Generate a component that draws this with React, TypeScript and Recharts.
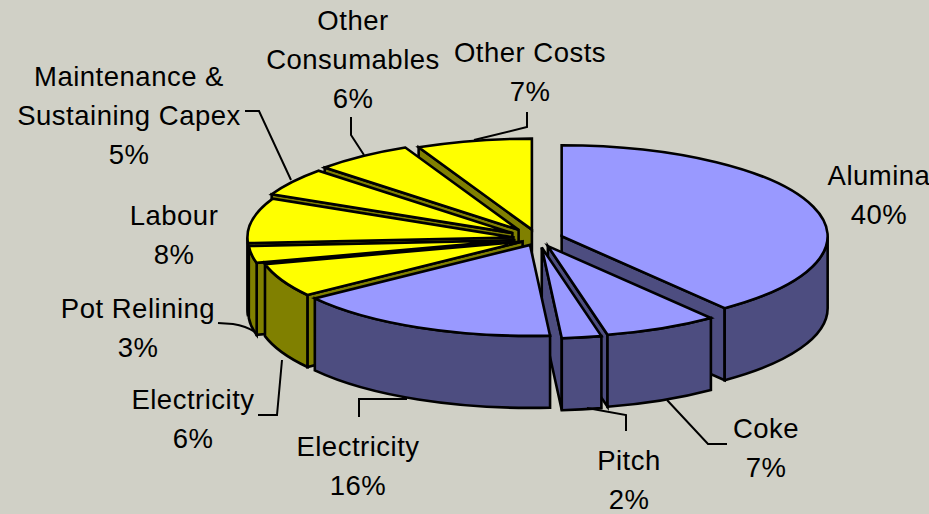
import React from "react"
import { Pie, PieChart } from "recharts"

// right hand side of the pie, clockwise from 12 o'clock
const purpleNames = [["Alumina"], ["Coke"], ["Pitch"], ["Electricity"]]
const purpleValues = [39.5, 6.9, 2.4, 16.2]

// left hand side, clockwise from 12 o'clock backwards (so the far slices paint first)
const yellowNames = [
  ["Other Costs"],
  ["Other", "Consumables"],
  ["Maintenance &", "Sustaining Capex"],
  ["Labour"],
  ["Pot Relining"],
  ["Electricity"],
]
const yellowValues = [7, 6, 5, 8, 3, 6]

const purpleExplode = [25, 23, 25, 19]
const yellowExplode = [28, 33, 31, 25, 24, 17]

// label centre and leader line for each slice
const purpleLabels = [
  { x: 879, y: 176, leader: "" },
  { x: 766, y: 429, leader: "M727 444L708 444L667 400" },
  { x: 629, y: 461, leader: "M626 431L626 415L587 408" },
  { x: 358, y: 447, leader: "M359 417L359 399L407 399" },
]
const yellowLabels = [
  { x: 530, y: 53, leader: "M527 112L527 127L474 140" },
  { x: 353, y: 21, leader: "M351 117L351 135L364 155" },
  { x: 129, y: 77, leader: "M245 111L259 111L291 180" },
  { x: 174, y: 216, leader: "" },
  { x: 138, y: 309, leader: "M218 323L233 324Q246 326 255 332" },
  { x: 193, y: 400, leader: "M258 415L277 415L282 360" },
]

const SQUASH = 91 / 266
const DEPTH = 72
const LINE_GAP = 39

const toSlices = (names: string[][], values: number[], explode: number[]) =>
  names.map((lines, i) => ({ name: lines.join(" "), value: values[i], explode: explode[i] }))

const sum = (list: number[]) => list.reduce((a, b) => a + b, 0)

function slice3d(sideColor: string) {
  return (props: any) => {
    const { cx, cy, outerRadius, startAngle, endAngle, fill, explode } = props
    const a = outerRadius
    const b = a * SQUASH
    let lo = 90 - Math.max(startAngle, endAngle)
    let hi = 90 - Math.min(startAngle, endAngle)
    if (lo < 0) {
      lo += 360
      hi += 360
    }
    const rad = (t: number) => (t * Math.PI) / 180
    const mid = rad((lo + hi) / 2)
    const ox = cx + explode * Math.sin(mid)
    const oy = cy - explode * SQUASH * Math.cos(mid)
    const pt = (t: number, drop = 0) =>
      `${ox + a * Math.sin(rad(t))} ${oy - b * Math.cos(rad(t)) + drop}`

    const top = `M${ox} ${oy}L${pt(lo)}A${a} ${b} 0 ${hi - lo > 180 ? 1 : 0} 1 ${pt(hi)}Z`
    const wallLo = Math.max(lo, 90)
    const wallHi = Math.min(hi, 270)
    const wall =
      wallLo < wallHi
        ? `M${pt(wallLo)}A${a} ${b} 0 0 1 ${pt(wallHi)}L${pt(wallHi, DEPTH)}A${a} ${b} 0 0 0 ${pt(wallLo, DEPTH)}Z`
        : ""
    const cutAt = hi < 180 ? hi : lo > 180 ? lo : null
    const cut =
      cutAt === null
        ? ""
        : `M${ox} ${oy}L${pt(cutAt)}L${pt(cutAt, DEPTH)}L${ox} ${oy + DEPTH}Z`

    return (
      <g stroke="#000" strokeWidth={2.6} strokeLinejoin="miter">
        {cut && <path d={cut} fill={sideColor} />}
        {wall && <path d={wall} fill={sideColor} />}
        <path d={top} fill={fill} />
      </g>
    )
  }
}

function labelFor(names: string[][], values: number[], spots: typeof purpleLabels) {
  return (props: any) => {
    const i = props.index
    const lines = [...names[i], `${Math.round(values[i])}%`]
    return (
      <g>
        {spots[i].leader && <path d={spots[i].leader} fill="none" stroke="#000" strokeWidth={2} />}
        <text
          fontFamily="Liberation Sans, Arial, sans-serif"
          fontSize={27.5}
          letterSpacing={0.5}
          fill="#000"
          textAnchor="middle"
        >
          {lines.map((line, n) => (
            <tspan key={n} x={spots[i].x} y={spots[i].y + 9 + n * LINE_GAP}>
              {line}
            </tspan>
          ))}
        </text>
      </g>
    )
  }
}

export default function App() {
  return (
    <div style={{ position: "fixed", left: 0, top: 0, width: 929, height: 514, background: "#D0D0C6", overflow: "hidden" }}>
      <PieChart width={929} height={514} margin={{ top: 0, right: 0, bottom: 0, left: 0 }}>
        <Pie
          data={toSlices(yellowNames, yellowValues, yellowExplode)}
          dataKey="value"
          cx={538}
          cy={239}
          outerRadius={266}
          startAngle={90}
          endAngle={90 + sum(yellowValues) * 3.6}
          fill="#FFFF00"
          shape={slice3d("#808000")}
          label={labelFor(yellowNames, yellowValues, yellowLabels)}
          labelLine={false}
          isAnimationActive={false}
        />
        <Pie
          data={toSlices(purpleNames, purpleValues, purpleExplode)}
          dataKey="value"
          cx={538}
          cy={239}
          outerRadius={266}
          startAngle={90}
          endAngle={90 - sum(purpleValues) * 3.6}
          fill="#9999FF"
          shape={slice3d("#4D4D80")}
          label={labelFor(purpleNames, purpleValues, purpleLabels)}
          labelLine={false}
          isAnimationActive={false}
        />
      </PieChart>
    </div>
  )
}
